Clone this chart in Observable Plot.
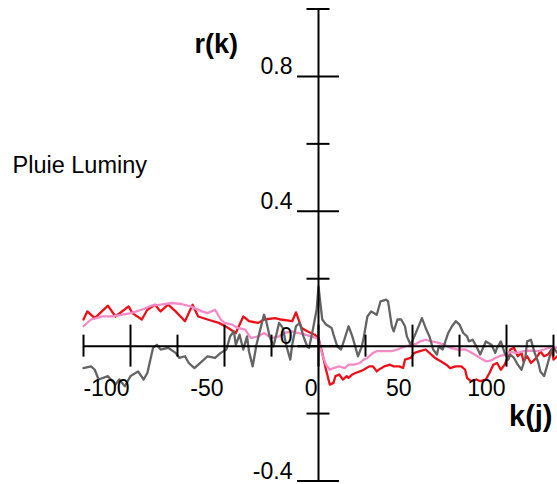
<!DOCTYPE html>
<html>
<head>
<meta charset="utf-8">
<script src="https://cdn.jsdelivr.net/npm/d3@7"></script>
<script src="https://cdn.jsdelivr.net/npm/@observablehq/plot@0.6"></script>
<style>
  html, body { margin: 0; padding: 0; background: #fff; }
  #chart svg { display: block; }
</style>
</head>
<body>
<div id="chart"></div>
<script>
// ---- data ----
const redLag = [-125,-123,-119,-112,-108,-101,-99,-94,-91,-87,-84,-80,-76,-71,-67,-64,-59,-53,-48,-44,-40,-37,-32,-29,-23,-20,-14,-12,-9,-6,-2,0,2,4,6,8,9,11,13,15,16,18,20,22,24,27,29,31,32,35,38,40,43,45,46,49,51,54,57,60,62,65,68,70,73,76,78,79,81,84,86,89,91,93,95,97,99,101,102,104,106,108,109,111,113,115,117,118,120,122,124,125,127];
const redR = [0.079,0.103,0.083,0.120,0.088,0.118,0.098,0.079,0.108,0.123,0.103,0.123,0.103,0.074,0.123,0.088,0.079,0.069,0.054,0.039,0.088,0.074,0.069,0.079,0.083,0.079,0.074,0.100,0.054,0.044,0.034,0.024,-0.020,-0.070,-0.114,-0.109,-0.089,-0.084,-0.099,-0.089,-0.094,-0.084,-0.079,-0.075,-0.070,-0.060,-0.060,-0.075,-0.070,-0.060,-0.055,-0.060,-0.060,-0.065,-0.040,-0.035,-0.020,-0.015,-0.010,-0.025,-0.035,-0.045,-0.055,-0.065,-0.060,-0.060,-0.070,-0.094,-0.104,-0.099,-0.104,-0.099,-0.079,-0.055,-0.050,-0.070,-0.055,-0.030,-0.010,-0.005,-0.030,-0.020,-0.045,-0.030,-0.050,-0.040,-0.025,-0.015,-0.030,-0.025,-0.010,-0.040,-0.030];

const pinkLag = [-125,-121,-115,-110,-105,-100,-94,-89,-84,-78,-73,-68,-62,-59,-55,-52,-50,-46,-43,-39,-36,-32,-29,-25,-21,-18,-14,-11,-7,-4,-1,0,2,4,6,8,11,14,16,19,22,24,26,29,31,35,39,42,46,49,52,54,57,60,63,67,70,74,78,80,83,86,89,92,94,97,100,102,106,109,113,117,120,124,127];
const pinkR = [0.059,0.079,0.088,0.088,0.093,0.098,0.108,0.120,0.123,0.128,0.125,0.118,0.103,0.098,0.108,0.079,0.069,0.064,0.054,0.049,0.024,0.029,0.039,0.024,0.029,0.039,0.044,0.039,0.034,0.029,0.024,0.019,-0.025,-0.055,-0.070,-0.065,-0.060,-0.065,-0.055,-0.055,-0.050,-0.040,-0.035,-0.020,-0.015,-0.015,-0.015,-0.010,-0.001,0.004,0.007,0.014,0.019,0.014,0.011,0.004,-0.005,-0.010,-0.010,-0.015,-0.025,-0.035,-0.045,-0.042,-0.035,-0.028,-0.025,-0.018,-0.020,-0.015,-0.013,-0.015,-0.010,-0.002,-0.005];

const grayLag = [-125,-121,-119,-117,-112,-108,-106,-103,-100,-96,-93,-91,-88,-86,-84,-80,-76,-74,-71,-69,-66,-62,-59,-55,-52,-49,-47,-45,-44,-42,-40,-38,-37,-35,-33,-31,-29,-28,-26,-24,-22,-21,-19,-17,-15,-14,-12,-10,-8,-6,-5,-3,-1,0,2,4,7,8,10,12,14,16,18,21,23,24,26,28,31,33,36,37,39,40,42,44,46,47,49,51,54,55,57,59,61,63,64,66,69,71,73,75,77,79,80,82,84,86,89,92,94,95,97,99,101,102,104,106,108,110,111,113,115,117,118,120,122,124,125,127];
const grayR = [-0.065,-0.060,-0.070,-0.099,-0.089,-0.114,-0.099,-0.119,-0.089,-0.075,-0.099,-0.079,-0.005,0.004,-0.010,-0.005,-0.020,-0.035,-0.030,-0.050,-0.065,-0.045,-0.030,-0.035,-0.020,-0.010,0.029,0.044,0.004,0.034,-0.010,0.029,-0.015,-0.060,0.004,0.049,0.093,0.079,0.029,-0.001,0.044,0.069,0.054,-0.001,-0.040,0.004,0.059,0.069,0.029,-0.001,-0.005,0.049,0.108,0.177,0.079,0.064,0.054,0.034,-0.001,-0.010,0.024,0.059,0.029,-0.030,-0.001,0.024,0.088,0.103,0.093,0.133,0.138,0.133,0.059,0.044,0.079,0.079,0.059,0.029,0.004,0.029,0.069,0.083,0.054,0.029,-0.010,-0.025,-0.001,-0.010,0.039,0.059,0.074,0.064,0.039,0.029,0.014,0.019,-0.001,-0.025,0.014,0.004,-0.020,-0.005,0.014,-0.020,-0.040,-0.025,-0.035,-0.055,-0.070,-0.035,0.014,0.019,-0.020,-0.050,-0.075,-0.089,-0.050,-0.010,-0.005,-0.020];

// axes / ticks
const xDomain = [-125, 125];
const yDomain = [-0.4, 1.0];
const xMajorTicks = [-100, -50, 0, 50, 100];
const xMinorTicks = [-125, -75, -25, 25, 75, 125];
const yMajorTicks = [0.8, 0.4, 0, -0.4];
const yMinorTicks = [1.0, 0.6, 0.2, -0.2];
const xTickLabels = [-100, -50, 0, 50, 100];
const yTickLabels = [0.8, 0.4, 0, -0.4];
const yAxisTitle = "r(k)";
const xAxisTitle = "k(j)";
const seriesTitle = "Pluie Luminy";

function zip(lags, vals) {
  const n = Math.min(lags.length, vals.length);
  return d3.range(n).map(i => ({k: lags[i], r: vals[i]}));
}
const red = zip(redLag, redR);
const pink = zip(pinkLag, pinkR);
const gray = zip(grayLag, grayR);

const font = "'Liberation Sans', Arial, Helvetica, sans-serif";

const chart = Plot.plot({
  width: 557,
  height: 484,
  marginLeft: 83,
  marginRight: 4,
  marginTop: 8.5,
  marginBottom: 3.5,
  style: {background: "#fff", fontFamily: font, overflow: "visible"},
  x: {domain: xDomain, axis: null},
  y: {domain: yDomain, axis: null},
  marks: [
    Plot.line(red, {x: "k", y: "r", stroke: "#ec1118", strokeWidth: 2.3}),
    Plot.line(pink, {x: "k", y: "r", stroke: "#f68ac6", strokeWidth: 2.3}),
    Plot.line(gray, {x: "k", y: "r", stroke: "#646464", strokeWidth: 2.3}),
    // axis lines
    Plot.ruleY([0], {x1: xDomain[0], x2: xDomain[1], stroke: "#000", strokeWidth: 2}),
    Plot.ruleX([0], {y1: yDomain[0], y2: yDomain[1], stroke: "#000", strokeWidth: 2}),
    // x ticks
    Plot.ruleX(xMajorTicks, {x: d => d, y1: 0, y2: 0, insetTop: -21, insetBottom: -21, stroke: "#000", strokeWidth: 2}),
    Plot.ruleX(xMinorTicks, {x: d => d, y1: 0, y2: 0, insetTop: -11, insetBottom: -11, stroke: "#000", strokeWidth: 2}),
    // y ticks
    Plot.ruleY(yMajorTicks, {y: d => d, x1: 0, x2: 0, insetLeft: -21, insetRight: -21, stroke: "#000", strokeWidth: 2}),
    Plot.ruleY(yMinorTicks, {y: d => d, x1: 0, x2: 0, insetLeft: -11.5, insetRight: -11.5, stroke: "#000", strokeWidth: 2}),
    // tick labels
    Plot.text(xTickLabels, {x: d => d, y: 0, text: d => String(d), textAnchor: "end", lineAnchor: "bottom", dx: -1, dy: 50, fontSize: 23, fill: "#000"}),
    Plot.text(yTickLabels, {x: 0, y: d => d, text: d => String(d), textAnchor: "end", lineAnchor: "bottom", dx: -26, dy: -2, fontSize: 23, fill: "#000"}),
    // titles
    Plot.text([yAxisTitle], {frameAnchor: "top-left", text: d => d, textAnchor: "start", lineAnchor: "bottom", dx: 111, dy: 43.5, fontSize: 27, fontWeight: "bold", fill: "#000"}),
    Plot.text([xAxisTitle], {frameAnchor: "bottom-right", text: d => d, textAnchor: "end", lineAnchor: "bottom", dx: -1, dy: -55, fontSize: 29, fontWeight: "bold", fill: "#000"}),
    Plot.text([seriesTitle], {frameAnchor: "top-left", text: d => d, textAnchor: "start", lineAnchor: "bottom", dx: -71, dy: 163.5, fontSize: 23.5, fill: "#000"})
  ]
});
document.getElementById("chart").appendChild(chart);
</script>
</body>
</html>
